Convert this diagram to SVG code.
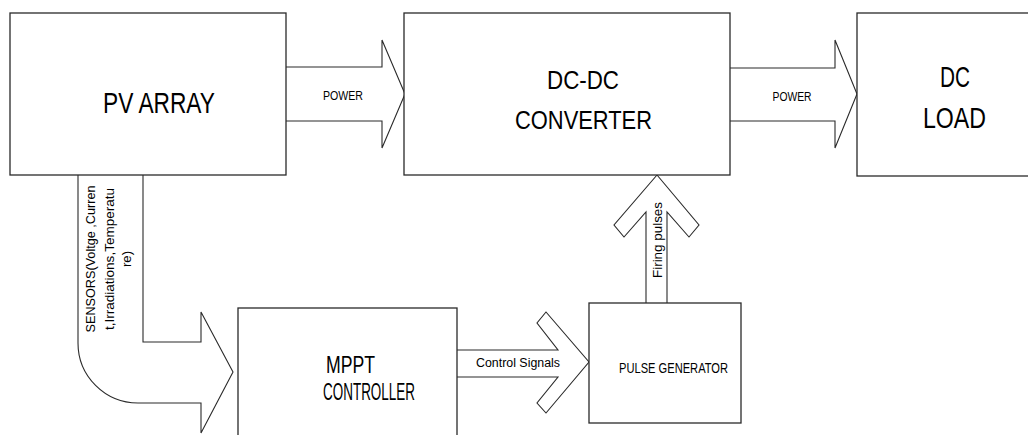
<svg xmlns="http://www.w3.org/2000/svg" width="1028" height="435" viewBox="0 0 1028 435">
<style>
.box{fill:#fff;stroke:#2a2a2a;stroke-width:1.3}
.arr{fill:#fff;stroke:#2a2a2a;stroke-width:1.1;stroke-linejoin:miter}
text{font-family:"Liberation Sans",Arial,sans-serif;fill:#000}
.big{text-anchor:middle}
.sm{font-size:12px;text-anchor:middle}
</style>
<rect width="1028" height="435" fill="#fff"/>
<g id="connectors">
<path class="arr" d="M286 67 L382 67 L382 40 L405 94 L382 148 L382 121 L286 121"/>
<path class="arr" d="M730 68 L835 68 L835 40 L857 94 L835 148 L835 121 L730 121"/>
<path class="arr" d="M78 175 L78 343 A60 60 0 0 0 138 403 L201 403 L201 433 L233 372 L201 312 L201 342 L143 342 L143 175"/>
<path class="arr" d="M457 350 L558 350 L537 323 L546 312 L589 362 L546 413 L537 403 L558 377 L457 377"/>
<path class="arr" d="M646 303 L646 212 L624 237 L614 225 L657 175 L699 225 L689 237 L667 212 L667 303"/>
<text class="sm" x="343" y="100" textLength="40" lengthAdjust="spacingAndGlyphs">POWER</text>
<text class="sm" x="792" y="101" textLength="39" lengthAdjust="spacingAndGlyphs">POWER</text>
<text class="sm" x="518" y="367" font-size="12.5" textLength="84" lengthAdjust="spacingAndGlyphs">Control Signals</text>
<text class="sm" transform="translate(662,240) rotate(-90)" x="0" y="0" textLength="76" lengthAdjust="spacingAndGlyphs">Firing pulses</text>
<g transform="translate(95,259) rotate(-90)">
<text class="sm" x="0" y="0" textLength="147" lengthAdjust="spacingAndGlyphs">SENSORS(Voltge ,Curren</text>
<text class="sm" x="0" y="19" textLength="142" lengthAdjust="spacingAndGlyphs">t,Irradiations,Temperatu</text>
<text class="sm" x="0" y="36" textLength="16" lengthAdjust="spacingAndGlyphs">re)</text>
</g>
</g>
<g id="pv-array">
<rect class="box" x="10" y="13" width="276" height="162"/>
<text class="big" x="159" y="113" font-size="30" textLength="112" lengthAdjust="spacingAndGlyphs">PV ARRAY</text>
</g>
<g id="dc-dc-converter">
<rect class="box" x="404" y="13" width="326" height="162"/>
<text class="big" x="583" y="89" font-size="26" textLength="72" lengthAdjust="spacingAndGlyphs">DC-DC</text>
<text class="big" x="583.5" y="129" font-size="26" textLength="137" lengthAdjust="spacingAndGlyphs">CONVERTER</text>
</g>
<g id="dc-load">
<rect class="box" x="857" y="13" width="200" height="163"/>
<text class="big" x="955" y="87" font-size="29" textLength="30" lengthAdjust="spacingAndGlyphs">DC</text>
<text class="big" x="954.5" y="128" font-size="29" textLength="63" lengthAdjust="spacingAndGlyphs">LOAD</text>
</g>
<g id="mppt-controller">
<rect class="box" x="238" y="308" width="219" height="140"/>
<text class="big" x="350.5" y="373" font-size="24" textLength="49" lengthAdjust="spacingAndGlyphs">MPPT</text>
<text class="big" x="369" y="400" font-size="24" textLength="92" lengthAdjust="spacingAndGlyphs">CONTROLLER</text>
</g>
<g id="pulse-generator">
<rect class="box" x="589" y="303" width="152" height="120"/>
<text class="big" x="673.5" y="373" font-size="15" textLength="109" lengthAdjust="spacingAndGlyphs">PULSE GENERATOR</text>
</g>
</svg>
